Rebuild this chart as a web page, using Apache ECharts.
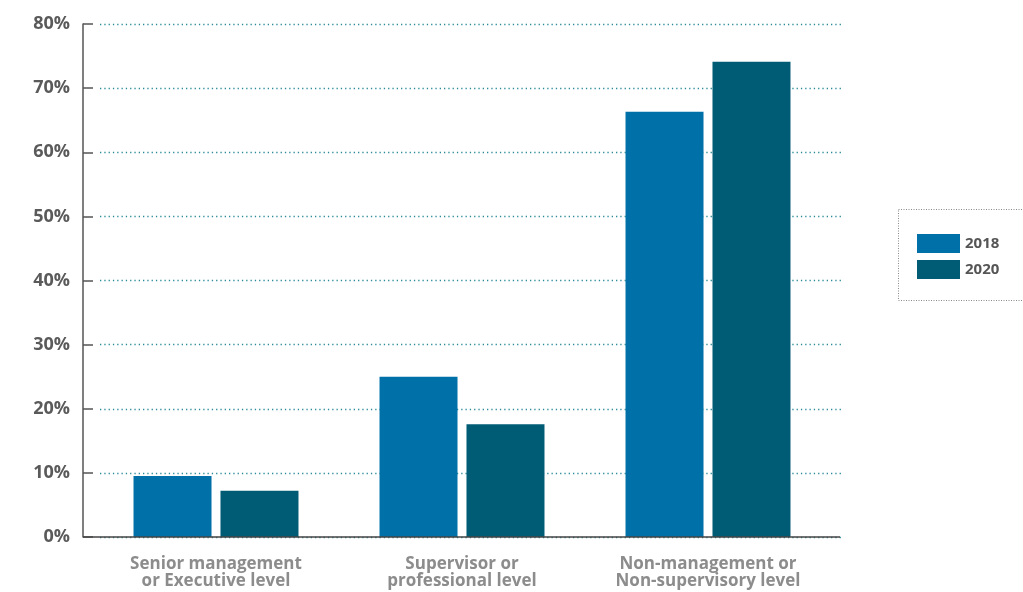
<!DOCTYPE html>
<html>
<head>
<meta charset="utf-8">
<script src="https://cdn.jsdelivr.net/npm/echarts@6/dist/echarts.min.js"></script>
<style>html,body{margin:0;padding:0;background:#fff}#c{width:1023px;height:592px}</style>
</head>
<body>
<div id="c"></div>
<script>
const categories = ['Senior management\nor Executive level', 'Supervisor or\nprofessional level', 'Non-management or\nNon-supervisory level'];
const seriesNames = ['2018', '2020'];
const values2018 = [9.5, 25.0, 66.3];
const values2020 = [7.2, 17.6, 74.1];
const yTicks = [0, 10, 20, 30, 40, 50, 60, 70, 80];

const chart = echarts.init(document.getElementById('c'));
const font = '"Open Sans", Lato, sans-serif';
chart.setOption({
  animation: false,
  grid: [
    { left: 93, right: 192, top: 24, bottom: 55, containLabel: false },
    { left: 100, right: 181, top: 24, bottom: 55, containLabel: false }
  ],
  legend: {
    orient: 'vertical', left: 917, top: 234, padding: 0,
    itemWidth: 43, itemHeight: 19, itemGap: 7,
    icon: 'rect',
    textStyle: { color: '#555', fontWeight: 'bold', fontSize: 15, fontFamily: font },
    data: seriesNames
  },
  xAxis: [
    {
      type: 'category', data: categories, gridIndex: 0,
      axisLine: { show: false }, axisTick: { show: false },
      axisLabel: { color: '#8c8c8c', fontWeight: 'bold', fontSize: 17, fontFamily: font, margin: 19, lineHeight: 17, interval: 0 }
    },
    { type: 'value', gridIndex: 1, min: 0, max: 1, show: false }
  ],
  yAxis: [
    {
      type: 'value', gridIndex: 0, min: 0, max: 80, interval: 10, offset: 10,
      axisLine: { show: true, lineStyle: { color: '#555', width: 1.5 } },
      axisTick: { show: true, inside: true, length: 10, lineStyle: { color: '#555', width: 1.5 } },
      axisLabel: { color: '#5a5a5a', fontWeight: 'bold', fontSize: 18, fontFamily: font, margin: 13,
        formatter: v => yTicks.includes(v) ? v + '%' : '' },
      splitLine: { show: false }
    },
    {
      type: 'value', gridIndex: 1, min: 0, max: 80, interval: 10,
      axisLine: { show: false }, axisTick: { show: false }, axisLabel: { show: false },
      splitLine: { show: true, lineStyle: { color: '#2d8c9a', width: 1.3, type: [1.3, 3] } }
    }
  ],
  series: [
    { name: seriesNames[0], type: 'bar', data: values2018, barWidth: 78, barGap: '11.5%', itemStyle: { color: '#0070a8' }, z: 3 },
    { name: seriesNames[1], type: 'bar', data: values2020, barWidth: 78, itemStyle: { color: '#005c75' }, z: 3 }
  ],
  graphic: [
    { type: 'line', shape: { x1: 83, y1: 537, x2: 840, y2: 537 }, style: { stroke: '#444', lineWidth: 1.5 }, z: 10 },
    { type: 'rect', shape: { x: 898.5, y: 209.5, width: 130, height: 91 }, style: { fill: 'none', stroke: '#888', lineWidth: 1, lineDash: [1, 1.5] } }
  ]
});
</script>
</body>
</html>
